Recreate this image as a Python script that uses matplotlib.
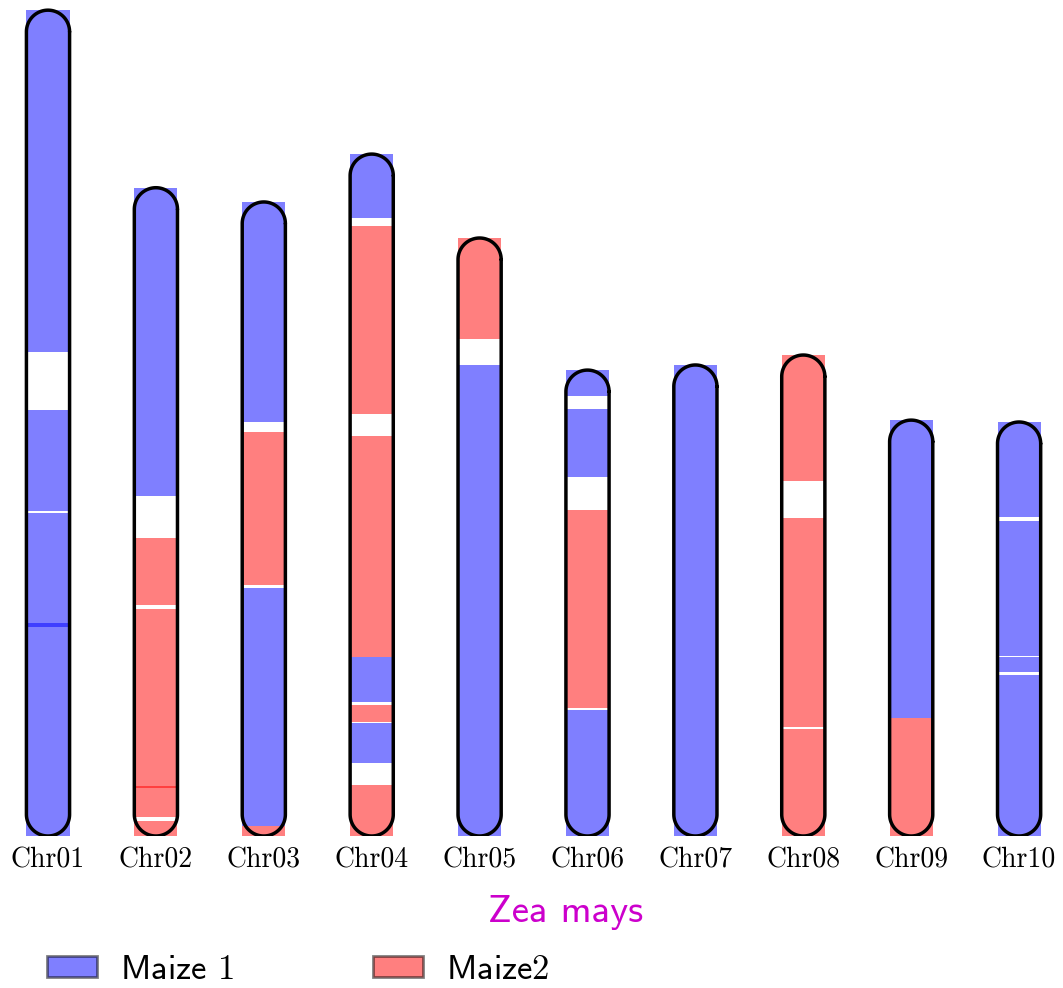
import numpy as np
import matplotlib
matplotlib.use("Agg")
import matplotlib.pyplot as plt
from matplotlib.patches import Patch

plt.rcParams["mathtext.fontset"] = "cm"
plt.rcParams["axes.unicode_minus"] = False

# ----------------------------
# Data (Mb, measured from the bottom end of each chromosome)
# ----------------------------
chromosomes = ["Chr01", "Chr02", "Chr03", "Chr04", "Chr05",
               "Chr06", "Chr07", "Chr08", "Chr09", "Chr10"]
lengths = [307.0, 241.0, 235.7, 253.5, 222.3, 173.2, 175.1, 178.8, 154.6, 153.9]

groups = ["Maize 1", "Maize2"]

# (start, end, group index) blocks; gaps are left uncovered
chr01_blocks = [(0.0, 79.0, 0), (77.6, 120.0, 0), (120.9, 158.4, 0), (180.0, 307.0, 0)]
chr02_blocks = [(0.0, 5.4, 1), (6.9, 18.6, 1), (17.9, 84.3, 1), (85.8, 110.8, 1),
                (126.4, 241.0, 0)]
chr03_blocks = [(0.0, 3.7, 1), (3.7, 92.3, 0), (93.3, 150.2, 1), (153.9, 235.7, 0)]
chr04_blocks = [(0.0, 19.0, 1), (27.1, 42.0, 0), (42.4, 48.7, 1), (49.8, 66.5, 0),
                (66.5, 148.7, 1), (156.9, 226.8, 1), (229.7, 253.5, 0)]
chr05_blocks = [(0.0, 155.4, 0), (155.4, 175.1, 0), (184.8, 222.3, 1)]
chr06_blocks = [(0.0, 47.0, 0), (47.4, 121.2, 1), (133.3, 158.9, 0), (163.6, 173.2, 0)]
chr07_blocks = [(0.0, 175.1, 0)]
chr08_blocks = [(0.0, 39.6, 1), (40.6, 118.2, 1), (132.0, 178.8, 1)]
chr09_blocks = [(0.0, 43.9, 1), (43.9, 154.6, 0)]
chr10_blocks = [(0.0, 60.0, 0), (60.9, 66.4, 0), (67.0, 117.2, 0), (118.5, 153.9, 0)]

blocks = [chr01_blocks, chr02_blocks, chr03_blocks, chr04_blocks, chr05_blocks,
          chr06_blocks, chr07_blocks, chr08_blocks, chr09_blocks, chr10_blocks]

group_colors = ["#0000ff", "#ff0000"]

# ----------------------------
# Figure / axes geometry
# ----------------------------
W, H = 1063, 988
fig = plt.figure(figsize=(W / 100, H / 100), dpi=100)
ax = fig.add_axes([0, (H - 836) / H, 1, 836 / H])

step_px = 107.9          # spacing between chromosome centres (px)
px_per_mb = 2.69
x0, x1 = -48 / step_px, (W - 48) / step_px
ax.set_xlim(x0, x1)
ax.set_ylim(0, 836 / px_per_mb)

bar_w = 0.4
hw = bar_w / 2
# radius of the end caps in y data units (keeps caps round on screen)
ry = hw * step_px / px_per_mb

for i, (length, blks) in enumerate(zip(lengths, blocks)):
    for start, end, g in blks:
        ax.bar(i, end - start, bottom=start, width=bar_w,
               color=group_colors[g], alpha=0.5, linewidth=0)

    # capsule outline
    t_top = np.linspace(0, np.pi, 60)
    t_bot = np.linspace(np.pi, 2 * np.pi, 60)
    xs = np.concatenate([i + hw * np.cos(t_top), i + hw * np.cos(t_bot)])
    ys = np.concatenate([length - ry + ry * np.sin(t_top), ry + ry * np.sin(t_bot)])
    xs = np.append(xs, xs[0])
    ys = np.append(ys, ys[0])
    ax.plot(xs, ys, color="black", linewidth=2.5, solid_capstyle="round")

ax.set_xticks(range(len(chromosomes)))
ax.set_xticklabels(chromosomes, family="cmr10", fontsize=20)
ax.tick_params(axis="x", length=0, pad=8)
ax.set_yticks([])
for s in ax.spines.values():
    s.set_visible(False)

fig.text(566 / W, 1 - 912 / H, "Zea mays", color="#cc00cc",
         family="cmss10", fontsize=28, ha="center", va="center")

handles = [Patch(facecolor=c, alpha=0.5, edgecolor="black", linewidth=2)
           for c in group_colors]
labels = ["Maize $1$", "Maize$2$"]
fig.legend(handles, labels, loc="center left", bbox_to_anchor=(47 / W, 1 - 970 / H),
           ncol=2, frameon=False, prop={"family": "cmss10", "size": 25},
           borderpad=0, borderaxespad=0,
           handlelength=1.44, handleheight=0.55, handletextpad=0.66,
           columnspacing=4.0)

fig.savefig("out.png", dpi=100)
